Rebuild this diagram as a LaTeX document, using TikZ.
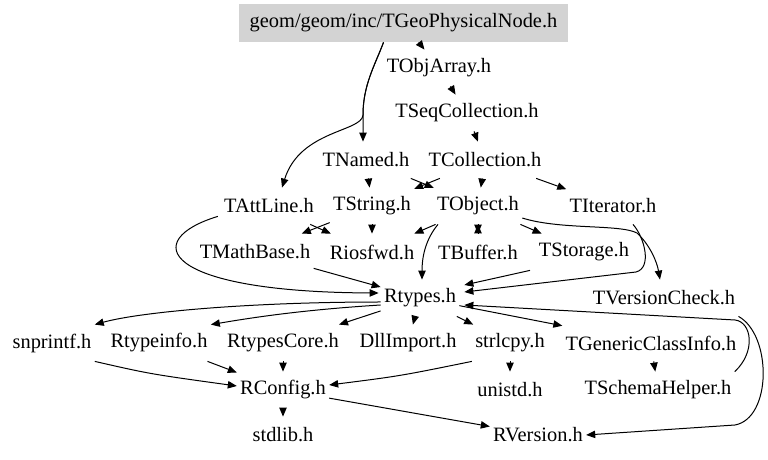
\documentclass[tikz,border=0pt]{standalone}
\usepackage{fontspec}
\setmainfont{Liberation Serif}
\usetikzlibrary{arrows.meta, calc}
\definecolor{rootgray}{RGB}{211,211,211}

\begin{document}
\begin{tikzpicture}[x=0.5pt, y=-0.5pt]
    % --- Style Definitions ---
    \tikzset{
        % Plain header file (box without border)
        file/.style={
            font=\fontsize{10.2}{12}\selectfont,
            inner xsep=1.5pt,
            inner ysep=0pt,
            minimum height=18pt
        },
        % The documented file itself
        root file/.style={
            file,
            fill=rootgray,
            minimum width=164.5pt,
            minimum height=19pt
        },
        % Include edge
        incl/.style={
            -{Triangle[length=4.5pt, width=3.7pt]},
            line width=0.5pt,
            black
        }
    }

    \useasboundingbox (0,0) rectangle (768,460);

    % --- 1. Files, row by row ---
    \node[root file] (root) at (403.5,23) {geom/geom/inc/TGeoPhysicalNode.h};
    \node[file] (tobjarray) at (439,68) {TObjArray.h};
    \node[file] (tseqcoll) at (467,113) {TSeqCollection.h};
    \node[file] (tnamed) at (366,160) {TNamed.h};
    \node[file] (tcoll) at (485,160) {TCollection.h};
    \node[file] (tattline) at (269,206) {TAttLine.h};
    \node[file] (tstring) at (372,206) {TString.h};
    \node[file] (tobject) at (478,206) {TObject.h};
    \node[file] (titer) at (613,206) {TIterator.h};
    \node[file] (tmathbase) at (255,252) {TMathBase.h};
    \node[file] (riosfwd) at (372,252) {Riosfwd.h};
    \node[file] (tbuffer) at (478,252) {TBuffer.h};
    \node[file] (tstorage) at (584,252) {TStorage.h};
    \node[file] (rtypes) at (420,298) {Rtypes.h};
    \node[file] (tversion) at (664,298) {TVersionCheck.h};
    \node[file] (snprintf) at (52,343) {snprintf.h};
    \node[file] (rtypeinfo) at (159,343) {Rtypeinfo.h};
    \node[file] (rtypescore) at (283,343) {RtypesCore.h};
    \node[file] (dllimport) at (408,343) {DllImport.h};
    \node[file] (strlcpy) at (510,343) {strlcpy.h};
    \node[file] (tgeneric) at (651,343) {TGenericClassInfo.h};
    \node[file] (rconfig) at (283,390) {RConfig.h};
    \node[file] (unistd) at (510,390) {unistd.h};
    \node[file] (tschema) at (658,390) {TSchemaHelper.h};
    \node[file] (stdlib) at (283,435) {stdlib.h};
    \node[file] (rversion) at (538,435) {RVersion.h};

    % --- 2. Upper part of the graph ---
    \draw[incl] (root) -- (tobjarray);
    \draw[incl] (tobjarray) -- (tseqcoll);
    \draw[incl] (tseqcoll) -- (tcoll);
    \draw[incl] ($(root.south)+(-20,0)$) .. controls (375,65) and (363,85) .. (363,115)
        -- ($(tnamed.north)+(-3,0)$);
    \draw[incl] ($(root.south)+(-20,0)$) .. controls (375,65) and (363,85) .. (363,115)
        .. controls (362,132) and (300,130) .. ($(tattline.north)+(13,0)$);
    \draw[incl] (tnamed) -- (tstring);
    \draw[incl] (tnamed) -- (tobject);
    \draw[incl] (tcoll) -- (tstring);
    \draw[incl] (tcoll) -- (tobject);
    \draw[incl] (tcoll) -- (titer);
    \draw[incl] (tattline) -- (riosfwd);
    \draw[incl] (tstring) -- (tmathbase);
    \draw[incl] (tstring) -- (riosfwd);
    \draw[incl] (tobject) -- (riosfwd);
    \draw[incl] (tobject) -- (tbuffer);
    \draw[incl] (tbuffer) -- (tobject);
    \draw[incl] (tobject) -- (tstorage);

    % --- 3. Everything that ends in Rtypes.h ---
    \draw[incl] ($(tattline.south west)+(-3,-8)$) .. controls (140,240) and (160,292)
        .. ($(rtypes.west)+(-2,-5)$);
    \draw[incl] (tmathbase) -- (rtypes);
    \draw[incl] ($(tobject.south)+(-40,0)$) .. controls (425,240) and (422,258)
        .. ($(rtypes.north)+(2,0)$);
    \draw[incl] ($(tstorage.south)+(-54,0)$) -- ($(rtypes.east)+(5,-13)$);
    \draw[incl] ($(titer.south)+(20,0)$) .. controls (645,238) and (652,268) .. (636,272)
        -- ($(rtypes.east)+(5,-6)$);
    \draw[incl] (tschema.north east) .. controls (756,352) and (752,322) .. (735,320)
        -- ($(rtypes.east)+(5,7)$);
    \draw[incl] ($(tobject.east)+(0,12)$) .. controls (560,230) and (620,224) .. (637,233)
        .. controls (650,245) and (657,262) .. ($(tversion.north)+(-4,0)$);

    % --- 4. Includes of Rtypes.h ---
    \draw[incl] ($(rtypes.west)+(0,4)$) .. controls (250,302) and (140,312) .. (snprintf.north east);
    \draw[incl] ($(rtypes.west)+(0,7)$) .. controls (300,310) and (250,318) .. (rtypeinfo.north east);
    \draw[incl] (rtypes) -- (rtypescore);
    \draw[incl] (rtypes) -- (dllimport);
    \draw[incl] (rtypes) -- (strlcpy);
    \draw[incl] (rtypes) -- (tgeneric);
    \draw[incl] (tgeneric) -- (tschema);

    % --- 5. Lower part ---
    \draw[incl] (snprintf.south east) .. controls (150,374) .. ($(rconfig.west)+(0,-4)$);
    \draw[incl] (rtypeinfo) -- (rconfig);
    \draw[incl] (rtypescore) -- (rconfig);
    \draw[incl] (strlcpy.south west) .. controls (400,376) .. ($(rconfig.east)+(0,-5)$);
    \draw[incl] (strlcpy) -- (unistd);
    \draw[incl] (rconfig) -- (stdlib);
    \draw[incl] (rconfig) -- (rversion);
    \draw[incl] (tversion.south east) .. controls (772,335) and (772,418) .. (735,425)
        -- (rversion.east);

\end{tikzpicture}
\end{document}
